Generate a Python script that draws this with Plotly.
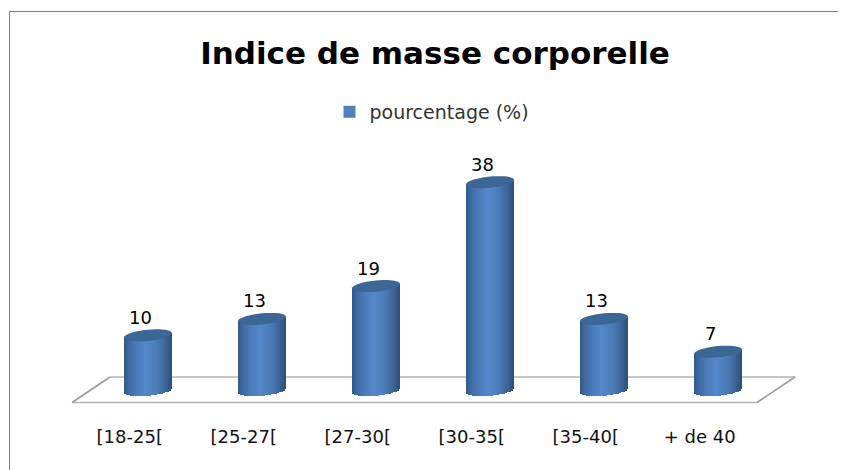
import numpy as np
import plotly.graph_objects as go

# --- data ---
categories = ["[18-25[", "[25-27[", "[27-30[", "[30-35[", "[35-40[", "+ de 40"]
values = [10, 13, 19, 38, 13, 7]
series_name = "pourcentage (%)"
title_text = "Indice de masse corporelle"

# --- geometry of the canvas (page pixels; the page body adds an 8px margin) ---
PAGE_W, PAGE_H = 846, 470
OFF = 8
W, H = PAGE_W - OFF, PAGE_H - OFF
ML, MR, MT, MB = 52, 32, 122, 48   # figure margins, in figure pixels
X0_PX, DX_PX = 148.0, 114.0        # first bar centre, bar spacing (page pixels)
Y0_PX, PX_PER_UNIT = 390.0, 5.47   # zero line (page pixels), pixels per unit
BAR_W = 48 / DX_PX
RY = 5.6 / PX_PER_UNIT             # cylinder ellipse half height
TILT = 2.2 / PX_PER_UNIT           # ellipse tilt (half span)


def xv(px):
    return (px - X0_PX) / DX_PX


def yv(py):
    return (Y0_PX - py) / PX_PER_UNIT


def xp(px):
    return (px - OFF - ML) / (W - ML - MR)


def yp(py):
    return (H - MB - (py - OFF)) / (H - MB - MT)


x = list(range(len(categories)))
N = 24
stops = [(0.0, (50, 88, 136)), (0.10, (62, 106, 160)), (0.28, (76, 124, 186)),
         (0.45, (84, 136, 202)), (0.68, (76, 124, 184)), (0.88, (58, 98, 148)),
         (1.0, (44, 78, 122))]


def band_colour(t):
    ts = [s[0] for s in stops]
    rgb = [np.interp(t, ts, [s[1][c] for s in stops]) for c in range(3)]
    return "rgb({:.0f},{:.0f},{:.0f})".format(*rgb)


fig = go.Figure()
# legend entry only: the plain series colour
fig.add_trace(go.Bar(x=[None], y=[None], name=series_name,
                     marker=dict(color="#4F81BD", line=dict(width=0)),
                     showlegend=True, hoverinfo="skip"))

dw = BAR_W / N
for k in range(N):
    u = (k + 0.5) / N * 2 - 1       # -1..1 across the cylinder
    sag = RY * np.sqrt(max(0.0, 1 - u * u))
    bottom = -sag + TILT * u
    tops = [v + TILT * u for v in values]
    fig.add_trace(go.Bar(
        x=x,
        y=[t - bottom for t in tops],
        base=[bottom] * len(values),
        offset=-BAR_W / 2 + k * dw,
        width=dw * 1.35 if k < N - 1 else dw,
        marker=dict(color=band_colour((k + 0.5) / N), line=dict(width=0)),
        showlegend=False,
        hoverinfo="skip",
    ))

shapes = []
# floor of the 3D chart
floor = dict(line=dict(color="#B4B4B4", width=1.6), layer="below", xref="paper", yref="paper", type="line")
shapes.append({**floor, "x0": xp(72), "x1": xp(757), "y0": yp(402.5), "y1": yp(402.5)})
shapes.append({**floor, "x0": xp(110), "x1": xp(795), "y0": yp(377), "y1": yp(377)})
diag = {**floor, "line": dict(color="#9A9A9A", width=1.6)}
shapes.append({**diag, "x0": xp(72), "x1": xp(110), "y0": yp(402.5), "y1": yp(377)})
shapes.append({**diag, "x0": xp(757), "x1": xp(795), "y0": yp(402.5), "y1": yp(377)})

# frame of the picture: top and left edges only
frame = dict(type="line", xref="paper", yref="paper", line=dict(color="#808080", width=1), layer="above")
shapes.append({**frame, "x0": xp(9.5), "x1": xp(PAGE_W), "y0": yp(11.5), "y1": yp(11.5)})
shapes.append({**frame, "x0": xp(9.5), "x1": xp(9.5), "y0": yp(11.5), "y1": yp(PAGE_H)})

# lid of each cylinder, placed from its value
for xi, v in zip(x, values):
    t = np.linspace(0, 2 * np.pi, 40, endpoint=False)
    ex = xi + BAR_W / 2 * np.cos(t)
    ey = v + RY * np.sin(t) + TILT * np.cos(t)
    path = "M " + " L ".join(f"{a:.4f},{b:.4f}" for a, b in zip(ex, ey)) + " Z"
    shapes.append(dict(type="path", path=path, xref="x", yref="y", layer="above",
                       fillcolor="#3B6695", line=dict(width=0)))

annotations = [
    dict(x=xi, y=v, xref="x", yref="y", text=str(v), showarrow=False,
         xshift=-8, yshift=18, font=dict(family="DejaVu Sans", size=18, color="#000000"))
    for xi, v in zip(x, values)
]

fig.update_layout(
    width=W, height=H,
    margin=dict(l=ML, r=MR, t=MT, b=MB, pad=0),
    paper_bgcolor="white", plot_bgcolor="white",
    barmode="overlay",
    bargap=0,
    title=dict(text=title_text, font=dict(family="DejaVu Sans", size=31, color="#000000", weight="bold"),
               x=(435 - OFF) / W, xref="container", xanchor="center",
               y=1 - (53 - OFF) / H, yref="container", yanchor="middle"),
    legend=dict(orientation="h", x=xp(432), xanchor="center", y=yp(112), yanchor="middle",
                font=dict(family="DejaVu Sans", size=19, color="#333333"),
                bgcolor="rgba(0,0,0,0)", itemsizing="constant"),
    xaxis=dict(range=[xv(ML + OFF), xv(PAGE_W - MR)], tickmode="array",
               tickvals=[xi - 0.16 for xi in x], ticktext=categories,
               showgrid=False, zeroline=False, showline=False, ticks="", ticklabelstandoff=2,
               tickfont=dict(family="DejaVu Sans", size=18, color="#111111")),
    yaxis=dict(range=[yv(PAGE_H - MB), yv(MT + OFF)], visible=False, showgrid=False, zeroline=False),
    shapes=shapes,
    annotations=annotations,
)

fig.write_html("out.html", config=dict(displayModeBar=False))
